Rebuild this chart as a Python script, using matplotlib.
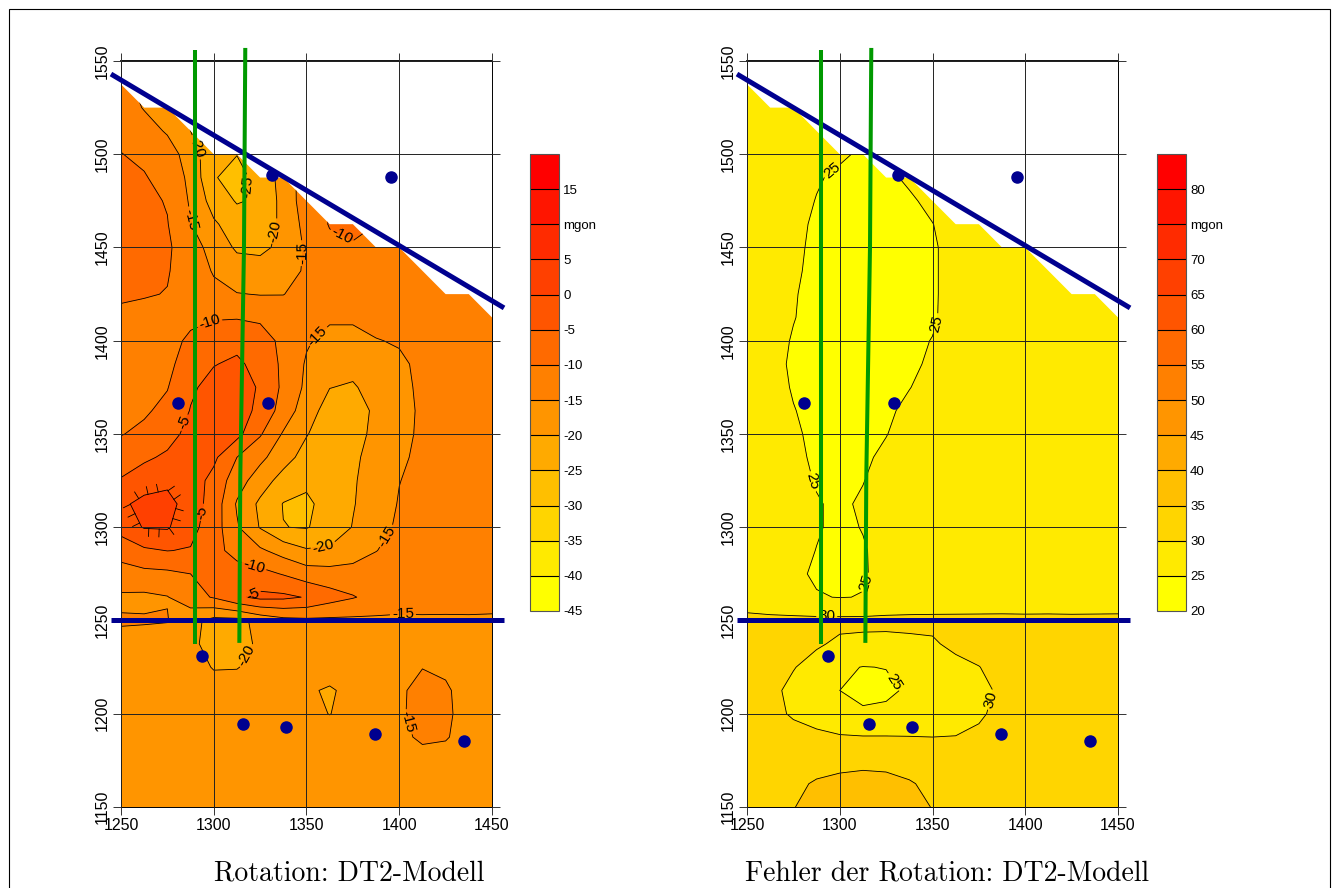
import numpy as np
import matplotlib.pyplot as plt
from matplotlib.patches import Polygon, Rectangle

plt.rcParams['font.family'] = ['Liberation Sans', 'DejaVu Sans']
plt.rcParams['contour.negative_linestyle'] = 'solid'

# grid nodes (12.5 spacing), rows listed from north (1550) to south (1150)
x_nodes = np.arange(1250, 1450.1, 12.5)
y_nodes = np.arange(1150, 1550.1, 12.5)

rotation_rows = [
    [-15, -18, -21, -24, -25, -25, -24, -22, -20, -18, -16, -14, -13, -12, -12, -12, -12],
    [-14, -16, -19, -22, -24, -25, -24, -22, -20, -18, -16, -14, -13, -12, -12, -12, -12],
    [-12.5, -15.3, -18, -21, -24, -24, -24, -22, -20, -18, -16, -14, -13, -12, -12, -12, -12],
    [-11, -13, -15.5, -20, -24.5, -24.5, -24, -22, -20, -18, -16, -14, -13, -12, -12, -12, -12],
    [-9.9, -10.8, -12.8, -17.2, -24.0, -24.9, -23, -21, -17, -13, -11, -11, -12, -12, -12, -12, -12],
    [-8.8, -9.7, -11.5, -16.2, -24.7, -26.5, -23.5, -18, -12.5, -11, -10.5, -11, -12, -12, -12, -12, -12],
    [-8, -8.9, -10.3, -15.6, -22.1, -25.4, -24.3, -18.3, -12.4, -10, -9.5, -10.5, -12, -12, -12, -12, -12],
    [-7.5, -8.3, -9.8, -14.8, -19.3, -22.5, -22.8, -18.9, -13.3, -9.7, -9.5, -10, -11.5, -12, -12, -12, -12],
    [-7.8, -8.5, -9.5, -12, -17.5, -20.6, -20.8, -19.1, -14.2, -11.2, -10.2, -10.1, -10.6, -11, -11.5, -12, -12],
    [-8.5, -9, -9.8, -11.5, -15.5, -18, -18.5, -17.5, -14.2, -12.5, -12, -11.8, -11.8, -12, -12, -12, -12],
    [-9.6, -9.8, -10.1, -12, -13.5, -14.8, -15.2, -15.1, -13.5, -12.5, -12, -12, -12, -12, -12, -12, -12],
    [-10.6, -10.9, -11.1, -11, -10.4, -10.3, -10.8, -12.5, -13.5, -14.3, -14.3, -13.5, -12.8, -12.5, -12.5, -12.5, -12.5],
    [-11.5, -12, -11.5, -9.2, -7.2, -6.3, -7.8, -11.2, -14.5, -16.5, -16.5, -15.2, -14.6, -13.2, -12.5, -12.5, -12.5],
    [-11.8, -12, -11.2, -7.5, -5.2, -4.2, -6.5, -11, -15.5, -18.5, -18.5, -17, -15.8, -14, -13, -12.5, -12.5],
    [-11.6, -11.5, -10.2, -5.7, -3.5, -2.8, -5.5, -11, -16, -19.9, -20.5, -18.2, -16, -14.3, -13.2, -12.7, -12.5],
    [-10.8, -10.6, -8.8, -4.8, -2.5, -2.2, -6.5, -12, -17.8, -22, -22.5, -19, -16.3, -14.4, -13.2, -12.7, -12.5],
    [-10.2, -9.0, -6.8, -3.5, -1.8, -3.5, -9.5, -15.5, -19.7, -23, -23, -18, -16, -14.4, -13.2, -12.7, -12.5],
    [-7.6, -5.8, -4.2, -2.8, -4.0, -10, -13.8, -17.9, -22, -23.5, -21, -18, -15.6, -14.2, -13.2, -12.7, -12.5],
    [-4.6, -2.5, -1.2, -2.5, -6.5, -12.8, -17.5, -22, -24, -23.5, -20.5, -17.8, -15.1, -13.8, -13, -12.6, -12.5],
    [-1, 1.5, 1.8, -2.5, -7, -15.5, -21, -25.2, -26, -23, -20.3, -17.5, -14.7, -13.5, -13, -12.6, -12.5],
    [-2.5, 0.3, 0.5, -3.5, -7.5, -14.5, -20.3, -24.9, -25.3, -23, -19.8, -16.8, -14.2, -13.3, -12.8, -12.5, -12.5],
    [-9, -5.8, -4.9, -5.3, -8.2, -12, -14.2, -17, -19.5, -19.3, -17.5, -15.1, -13.6, -13, -12.7, -12.5, -12.5],
    [-11, -11.3, -11, -10, -8.3, -7.5, -8.5, -10.3, -12.5, -13, -13, -13, -12.8, -12.6, -12.5, -12.5, -12.5],
    [-16, -16, -15.2, -12, -9.6, -5.8, -3.8, -4, -5.3, -8, -9.7, -11.5, -12.8, -13.2, -13.6, -13.8, -14],
    [-14.5, -14.6, -14.8, -18.5, -21.5, -21.5, -18.5, -16.5, -16, -16, -16, -15.9, -15.8, -15.6, -15.5, -15.4, -15.4],
    [-16.5, -16.8, -17, -18.5, -22.5, -22.5, -18.8, -17.2, -17, -17, -17, -17, -17, -17, -17, -17, -17],
    [-17, -17, -17.2, -18, -20.3, -20.2, -18.5, -17.5, -17.5, -17.5, -17.2, -16.5, -15.8, -15.1, -15.5, -16.5, -17],
    [-17, -17, -17.2, -17.8, -18, -18, -18.2, -18.5, -19.3, -20.6, -18.5, -17.2, -15.6, -13.8, -14.6, -16.2, -17],
    [-17, -17, -17, -17.3, -17.5, -17.5, -17.8, -18, -18.8, -20.1, -18.5, -17, -15.5, -13.8, -14.3, -16.5, -17],
    [-17, -17, -17, -17, -17.2, -17.3, -17.5, -17.7, -17.8, -18, -17.5, -16.8, -16, -14.3, -14.7, -16.5, -17],
    [-17, -17, -17, -17, -17, -17, -17, -17, -17, -17, -17, -17, -16.8, -16.5, -16.5, -16.8, -17],
    [-17, -17, -17, -17, -17, -17, -17, -17, -17, -17, -17, -17, -17, -17, -17, -17, -17],
    [-17, -17, -17, -17, -17, -17, -17, -17, -17, -17, -17, -17, -17, -17, -17, -17, -17],
]

error_rows = [
    [27, 27, 27, 27, 26, 25, 25, 26, 27, 27, 27, 27, 27, 27, 27, 27, 27],
    [27, 27, 27, 27, 26, 25, 25, 26, 27, 27, 27, 27, 27, 27, 27, 27, 27],
    [27, 27, 27, 27, 26, 24.5, 24.5, 25.5, 27, 27, 27, 27, 27, 27, 27, 27, 27],
    [27, 27, 27, 26.5, 25.5, 24, 24, 25, 26.5, 27, 27, 27, 27, 27, 27, 27, 27],
    [27, 27, 27, 26.8, 25.8, 24.2, 24, 25, 26.5, 27, 27, 27, 27, 27, 27, 27, 27],
    [27, 27, 26.8, 25.5, 24, 23.8, 24, 25.8, 27, 27, 27, 27, 27, 27, 27, 27, 27],
    [27, 27, 27, 24.8, 24, 23.8, 23.8, 24.3, 26.2, 27, 27, 27, 27, 27, 27, 27, 27],
    [27, 27, 26.2, 24.3, 23.8, 23.6, 23.6, 23.8, 24.9, 27, 27, 27, 27, 27, 27, 27, 27],
    [27, 27, 25.8, 24.2, 23.6, 23.5, 23.5, 23.7, 24.5, 26.5, 27, 27, 27, 27, 27, 27, 27],
    [27, 27, 25.5, 24.2, 23.6, 23.5, 23.5, 23.7, 24.5, 26.5, 27, 27, 27, 27, 27, 27, 27],
    [27, 26.8, 25.2, 24.2, 23.6, 23.5, 23.5, 23.7, 24.5, 26.5, 27, 27, 27, 27, 27, 27, 27],
    [27, 26.5, 25.1, 24.2, 23.6, 23.5, 23.5, 23.7, 24.6, 26.4, 27, 27, 27, 27, 27, 27, 27],
    [27, 26, 24.8, 24, 23.6, 23.5, 23.6, 24.3, 25.1, 26.5, 27, 27, 27, 27, 27, 27, 27],
    [27, 25.9, 24.6, 23.8, 23.5, 23.5, 23.7, 24.4, 25.5, 26.8, 27, 27, 27, 27, 27, 27, 27],
    [27, 26, 24.8, 23.9, 23.5, 23.6, 24, 24.9, 26.2, 27, 27, 27, 27, 27, 27, 27, 27],
    [27, 26.5, 25.1, 24.3, 23.8, 23.8, 24.4, 25.8, 26.8, 27, 27, 27, 27, 27, 27, 27, 27],
    [27, 26.8, 25.4, 24.4, 24, 24.1, 24.9, 26.2, 27, 27, 27, 27, 27, 27, 27, 27, 27],
    [27, 27, 25.7, 24.5, 24.2, 24.5, 25.6, 26.6, 27, 27, 27, 27, 27, 27, 27, 27, 27],
    [27, 27, 26, 24.8, 24.5, 24.9, 26.2, 27, 27, 27, 27, 27, 27, 27, 27, 27, 27],
    [27, 27, 26.2, 25.2, 24.5, 25.4, 26.5, 27, 27, 27, 27, 27, 27, 27, 27, 27, 27],
    [27, 27, 26.2, 25.2, 24.5, 25.1, 26.3, 27, 27, 27, 27, 27, 27, 27, 27, 27, 27],
    [27, 27, 25.8, 24.95, 24.4, 24.8, 25.8, 26.8, 27, 27, 27, 27, 27, 27, 27, 27, 27],
    [27, 27, 25.6, 24.6, 24.4, 24.7, 26, 26.8, 27, 27, 27, 27, 27, 27, 27, 27, 27],
    [27, 27, 26.2, 25.2, 24.9, 25.1, 26.5, 27, 27.2, 27.3, 27.4, 27.5, 27.6, 27.7, 27.8, 27.9, 28],
    [31.5, 31, 31, 31, 31, 31, 31, 31, 31, 31, 31, 31, 30.9, 30.9, 30.8, 30.8, 30.8],
    [32, 31.8, 31.2, 30.5, 29.3, 29, 28.9, 29.2, 29.5, 31, 31.8, 32, 32, 32, 32, 32, 32],
    [32, 31.5, 30.2, 28.5, 25.6, 24.9, 25.1, 27, 28, 28.8, 29.9, 31.5, 32, 32, 32, 32, 32],
    [32, 31, 29, 27, 25.0, 23.5, 24.2, 25.6, 27, 27.5, 28.5, 31, 32, 32, 32, 32, 32],
    [32, 31.2, 29.5, 28.5, 27.5, 25.8, 25.9, 27, 27.5, 28.3, 29.4, 31.2, 32, 32, 32, 32, 32],
    [32, 32, 31.5, 30.8, 30.3, 30.2, 30.2, 30.1, 30, 30.1, 30.8, 31.8, 32, 32, 32, 32, 32],
    [32, 32, 32.5, 33, 33.8, 34.1, 34, 33.5, 33, 32.5, 32, 32, 32, 32, 32, 32, 32],
    [32, 32.5, 34, 35.5, 36, 36.2, 36, 35.3, 34.2, 33, 32, 32, 32, 32, 32, 32, 32],
    [32, 33, 34.9, 36, 37, 37, 36.5, 36, 34.9, 34, 32.5, 32, 32, 32, 32, 32, 32],
]

rotation_levels = np.arange(-45, 21, 5)
error_levels = np.arange(20, 86, 5)

# blanking outline of the gridded area
blank_x = [1250, 1262.5, 1275, 1300, 1312.5, 1325, 1337.5, 1362.5, 1375, 1387.5,
           1400, 1425, 1437.5, 1450, 1450, 1250]
blank_y = [1537.5, 1525, 1525, 1500, 1500, 1487.5, 1487.5, 1462.5, 1462.5, 1450,
           1450, 1425, 1425, 1412.5, 1150, 1150]

# measurement points
pts_x = [1331.4, 1395.6, 1280.7, 1329.0, 1293.8, 1316.0, 1339.1, 1387.1, 1435.1]
pts_y = [1489.0, 1488.0, 1366.7, 1366.5, 1230.8, 1194.5, 1192.7, 1189.0, 1185.5]

# profile lines
diag_x = [1244.6, 1456.5]
diag_y = [1543.0, 1417.6]
horiz_x = [1244.6, 1456.5]
horiz_y = [1250.4, 1250.4]

# boreholes
bore1_x = [1290.1, 1290.1]
bore1_y = [1556.0, 1237.3]
bore2_x = [1317.0, 1316.3, 1314.3, 1313.8]
bore2_y = [1557.0, 1450.0, 1327.0, 1238.0]

rotation_label_spots = {
    -25: [(1319.5, 1482.4)],
    -20: [(1289, 1503), (1332, 1459), (1359, 1291.6), (1317, 1231.5)],
    -15: [(1287, 1465), (1347.6, 1447), (1357, 1401.5), (1392, 1296), (1402, 1254), (1404.7, 1195.6)],
    -10: [(1368, 1454), (1298, 1409.5), (1321, 1277)],
    -5: [(1284.5, 1356), (1296, 1307.6), (1319.5, 1267.4)],
}
error_label_spots = {
    25: [(1295.7, 1491.6), (1351, 1409.5), (1285, 1324.4), (1318, 1269), (1330.7, 1218)],
    30: [(1293, 1254), (1382, 1207.4)],
}

band_colors = [(1.0, (12 - i) / 12.0, 0.0) for i in range(13)]
navy = '#00008f'
green = '#009900'


def hachure(ax, cs):
    # short ticks on the outside of a closed contour
    path = cs.get_paths()[0]
    verts, codes = path.vertices, path.codes
    starts = np.where(codes == 1)[0].tolist() + [len(verts)]
    for a, b in zip(starts[:-1], starts[1:]):
        ring = verts[a:b]
        if len(ring) < 3:
            continue
        c = ring.mean(axis=0)
        seg = np.diff(ring, axis=0)
        seglen = np.hypot(seg[:, 0], seg[:, 1])
        keep = seglen > 1e-9
        seg, seglen = seg[keep], seglen[keep]
        pts = ring[:-1][keep]
        cum = np.concatenate([[0], np.cumsum(seglen)])
        for s in np.arange(2.5, cum[-1], 5.6):
            k = min(np.searchsorted(cum, s) - 1, len(seg) - 1)
            t = (s - cum[k]) / seglen[k]
            p = pts[k] + t * seg[k]
            n = np.array([seg[k, 1], -seg[k, 0]]) / seglen[k]
            if np.dot(n, p - c) < 0:
                n = -n
            q = p + 4.2 * n
            ax.plot([p[0], q[0]], [p[1], q[1]], color='black', lw=0.6, zorder=2)


def draw_panel(ax, cax, rows, levels, spots, tick_text, hachure_level=None):
    z = np.array(rows)[::-1]
    clip = Polygon(np.column_stack([blank_x, blank_y]), closed=True,
                   facecolor='none', edgecolor='none', transform=ax.transData)
    ax.add_patch(clip)
    cf = ax.contourf(x_nodes, y_nodes, z, levels=levels, colors=band_colors, zorder=1)
    cf.set_clip_path(clip)
    # one line set per level so that each can be labelled on its own
    for lev in levels:
        if not (z.min() < lev < z.max()):
            continue
        cl = ax.contour(x_nodes, y_nodes, z, levels=[lev], colors='black',
                        linewidths=0.6, linestyles='solid', zorder=2)
        cl.set_clip_path(clip)
        if lev == hachure_level:
            hachure(ax, cl)
        if lev in spots:
            ax.clabel(cl, manual=spots[lev], inline=True, inline_spacing=2,
                      fmt=lambda v: f'{v:.0f}', fontsize=11)

    ax.plot(diag_x, diag_y, color=navy, lw=3.6, clip_on=False, zorder=4,
            solid_capstyle='butt')
    ax.plot(horiz_x, horiz_y, color=navy, lw=3.6, clip_on=False, zorder=4,
            solid_capstyle='butt')
    ax.plot(bore1_x, bore1_y, color=green, lw=2.9, clip_on=False, zorder=4,
            solid_capstyle='butt')
    ax.plot(bore2_x, bore2_y, color=green, lw=2.9, clip_on=False, zorder=4,
            solid_capstyle='butt')
    ax.plot(pts_x, pts_y, 'o', color=navy, ms=8, zorder=5, clip_on=False)

    ax.set_xlim(1250, 1450)
    ax.set_ylim(1150, 1550)
    ax.set_xticks(np.arange(1250, 1451, 50))
    ax.set_yticks(np.arange(1150, 1551, 50))
    ax.grid(True, color='#222222', linewidth=0.7)
    ax.set_axisbelow(False)
    ax.tick_params(direction='out', length=6, width=0.7, color='#333333',
                   top=True, right=True, labelsize=11.5, pad=2)
    for lbl in ax.get_yticklabels():
        lbl.set_rotation(90)
        lbl.set_va('center')
    for side in ax.spines.values():
        side.set_linewidth(0.7)
    ax.spines['top'].set_linewidth(1.3)

    cb = ax.figure.colorbar(cf, cax=cax, ticks=levels, drawedges=True)
    cb.ax.set_yticklabels(tick_text)
    cb.ax.tick_params(length=0, labelsize=9.5, pad=3)
    cb.outline.set_linewidth(0.8)
    cb.outline.set_edgecolor('#555555')
    cb.dividers.set_color('black')
    cb.dividers.set_linewidth(0.8)


fig = plt.figure(figsize=(13.38, 8.88), dpi=100)
ax_l = fig.add_axes([0.09043, 0.09122, 0.27728, 0.84009])
ax_r = fig.add_axes([0.55830, 0.09122, 0.27728, 0.84009])
cax_l = fig.add_axes([0.39611, 0.31194, 0.02167, 0.51464])
cax_r = fig.add_axes([0.86472, 0.31194, 0.02167, 0.51464])

rot_ticks = ['' if v == 20 else 'mgon' if v == 10 else str(v) for v in rotation_levels]
err_ticks = ['' if v == 85 else 'mgon' if v == 75 else str(v) for v in error_levels]

draw_panel(ax_l, cax_l, rotation_rows, rotation_levels, rotation_label_spots, rot_ticks,
           hachure_level=0)
draw_panel(ax_r, cax_r, error_rows, error_levels, error_label_spots, err_ticks)

fig.text(0.2612, 0.009, 'Rotation: DT2-Modell', family='cmr10', fontsize=20,
         ha='center', va='baseline')
fig.text(0.7078, 0.009, 'Fehler der Rotation: DT2-Modell', family='cmr10', fontsize=20,
         ha='center', va='baseline')

fig.add_artist(Rectangle((0.0067, -0.02), 0.9873, 1.0099, transform=fig.transFigure,
                         fill=False, edgecolor='black', linewidth=0.8))

fig.savefig('out.png', dpi=100)
